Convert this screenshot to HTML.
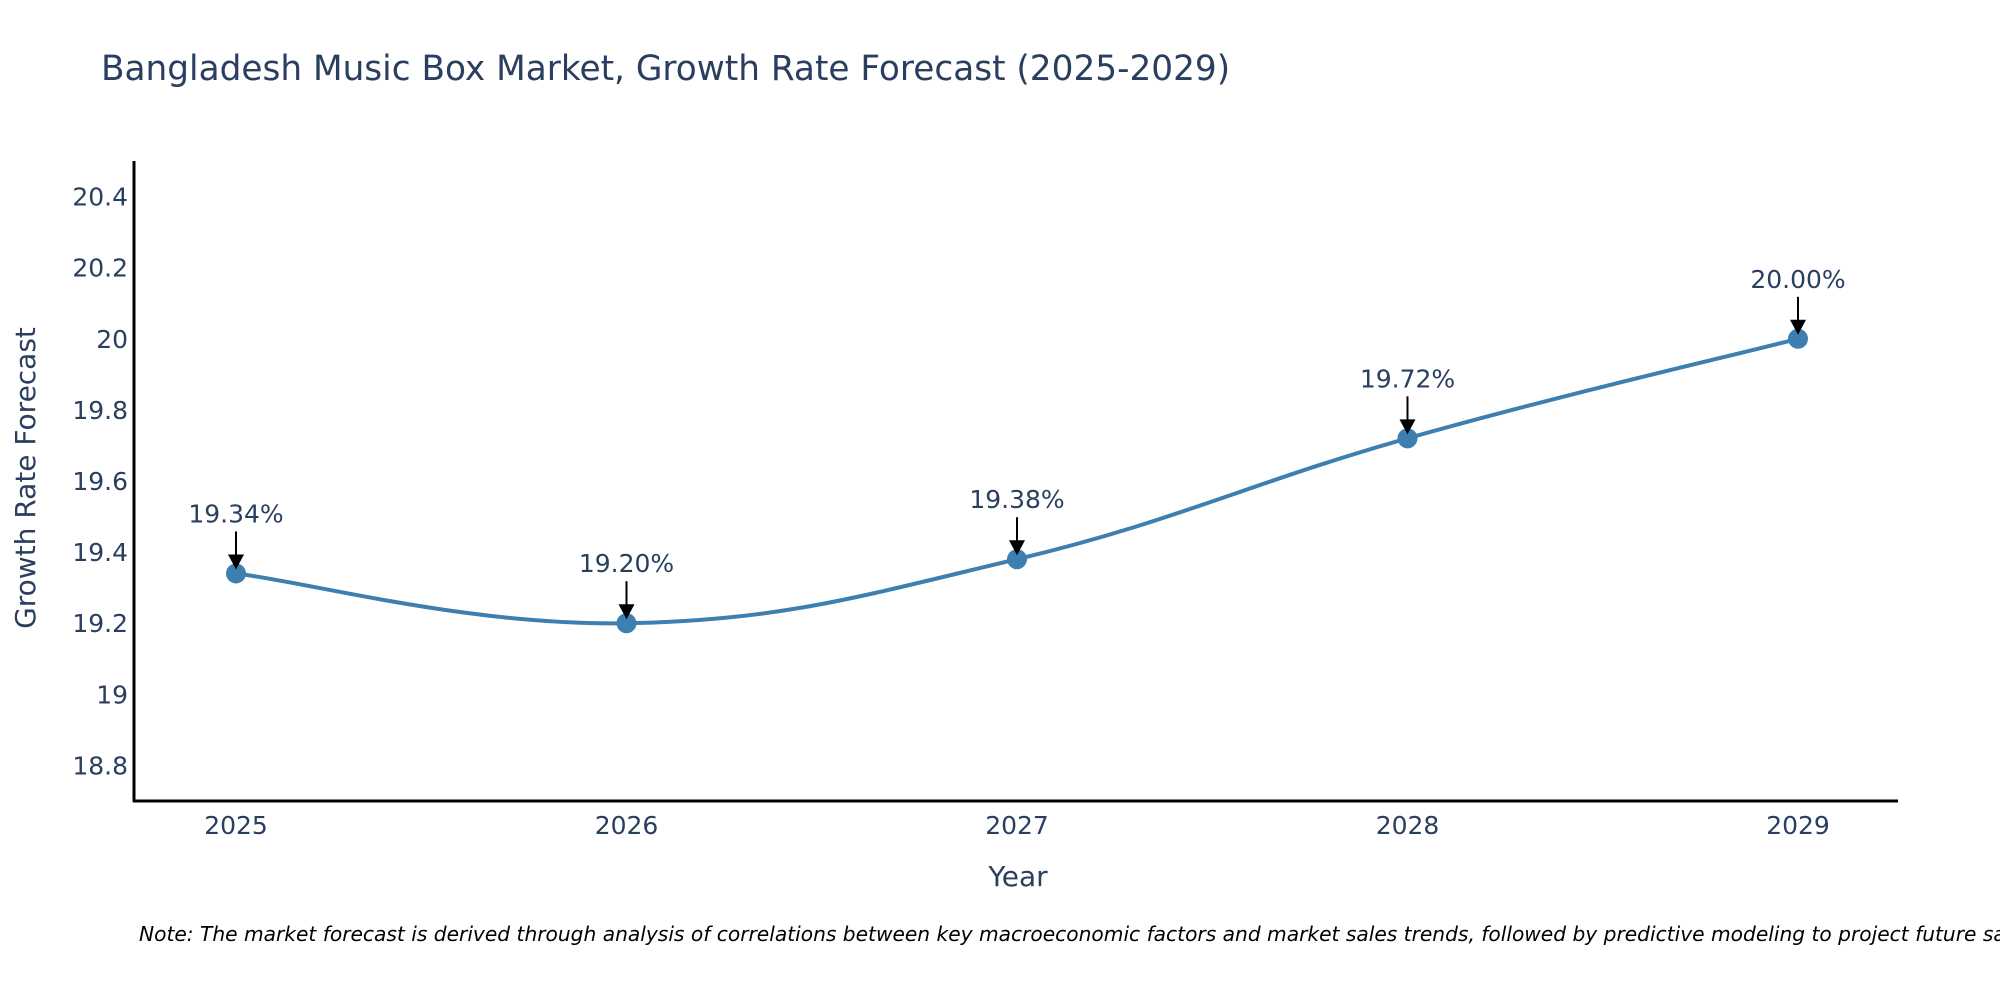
<!DOCTYPE html>
<html><head><meta charset="utf-8"><style>
html,body{margin:0;padding:0;background:#fff;}
svg{display:block;font-family:"DejaVu Sans","Liberation Sans",sans-serif;}
</style></head><body>
<svg id="chart" width="2000" height="1000" viewBox="0 0 2000 1000">
<rect width="2000" height="1000" fill="#fff"/>
<text x="101" y="80" font-size="34.3" fill="#2a3f5f">Bangladesh Music Box Market, Growth Rate Forecast (2025-2029)</text>
<g id="yticks"></g>
<g id="xticks"></g>
<line x1="134" y1="161" x2="134" y2="802" stroke="#000" stroke-width="3"/>
<line x1="133" y1="801" x2="1898" y2="801" stroke="#000" stroke-width="3"/>
<path id="line" fill="none" stroke="#3d7fb0" stroke-width="4"/>
<g id="marks"></g>
<g id="annots"></g>
<text x="1018" y="886" font-size="28" fill="#2a3f5f" text-anchor="middle">Year</text>
<text transform="translate(35,478) rotate(-90)" font-size="28" fill="#2a3f5f" text-anchor="middle">Growth Rate Forecast</text>
<text x="139" y="941" font-size="20.2" font-style="italic" fill="#000">Note: The market forecast is derived through analysis of correlations between key macroeconomic factors and market sales trends, followed by predictive modeling to project future sales.</text>
</svg>
<script>
const years = [2025, 2026, 2027, 2028, 2029];
const growth = [19.34, 19.20, 19.38, 19.72, 20.00];
const labels = ["19.34%", "19.20%", "19.38%", "19.72%", "20.00%"];
const yTicks = [18.8, 19, 19.2, 19.4, 19.6, 19.8, 20, 20.2, 20.4];
const yTickLabels = ["18.8", "19", "19.2", "19.4", "19.6", "19.8", "20", "20.2", "20.4"];

const NS = "http://www.w3.org/2000/svg";
const yMin = 18.7, yMax = 20.5, pTop = 161, pBot = 801;
const xs = v => 236 + (v - 2025) * 390.5;
const ys = v => pBot - (v - yMin) / (yMax - yMin) * (pBot - pTop);
function mk(tag, attrs, parent){const e=document.createElementNS(NS,tag);for(const k in attrs)e.setAttribute(k,attrs[k]);parent.appendChild(e);return e;}

const yg = document.getElementById('yticks');
yTicks.forEach((t,i)=>{
  const e = mk('text',{x:128,y:ys(t)+9,'font-size':25,fill:'#2a3f5f','text-anchor':'end'},yg);
  e.textContent = yTickLabels[i];
  
  
});
const xg = document.getElementById('xticks');
years.forEach(y=>{
  const e = mk('text',{x:xs(y),y:834,'font-size':25,fill:'#2a3f5f','text-anchor':'middle'},xg);
  e.textContent = String(y);
  
  
});

const pts = years.map((y,i)=>[xs(y), ys(growth[i])]);
let d = `M${pts[0][0]},${pts[0][1]}`;
const t = 0.8;
for(let i=0;i<pts.length-1;i++){
  const p0 = pts[Math.max(i-1,0)], p1=pts[i], p2=pts[i+1], p3=pts[Math.min(i+2,pts.length-1)];
  const c1=[p1[0]+(p2[0]-p0[0])*t/4, p1[1]+(p2[1]-p0[1])*t/4];
  const c2=[p2[0]-(p3[0]-p1[0])*t/4, p2[1]-(p3[1]-p1[1])*t/4];
  d += ` C${c1[0]},${c1[1]} ${c2[0]},${c2[1]} ${p2[0]},${p2[1]}`;
}
document.getElementById('line').setAttribute('d', d);

const mg = document.getElementById('marks'), ag = document.getElementById('annots');
pts.forEach((p,i)=>{
  const c = mk('circle',{cx:p[0],cy:p[1],r:10,fill:'#3d7fb0'},mg);
  
  
  const l = mk('line',{x1:p[0],y1:p[1]-42,x2:p[0],y2:p[1]-14,stroke:'#000','stroke-width':2},ag);
  
  
  const h = mk('polygon',{points:`${p[0]-8},${p[1]-19} ${p[0]+8},${p[1]-19} ${p[0]},${p[1]-4}`,fill:'#000'},ag);
  
  
  const tx = mk('text',{x:p[0],y:p[1]-51,'font-size':25,fill:'#2a3f5f','text-anchor':'middle'},ag);
  tx.textContent = labels[i];
  
  
});
</script>
</body></html>
